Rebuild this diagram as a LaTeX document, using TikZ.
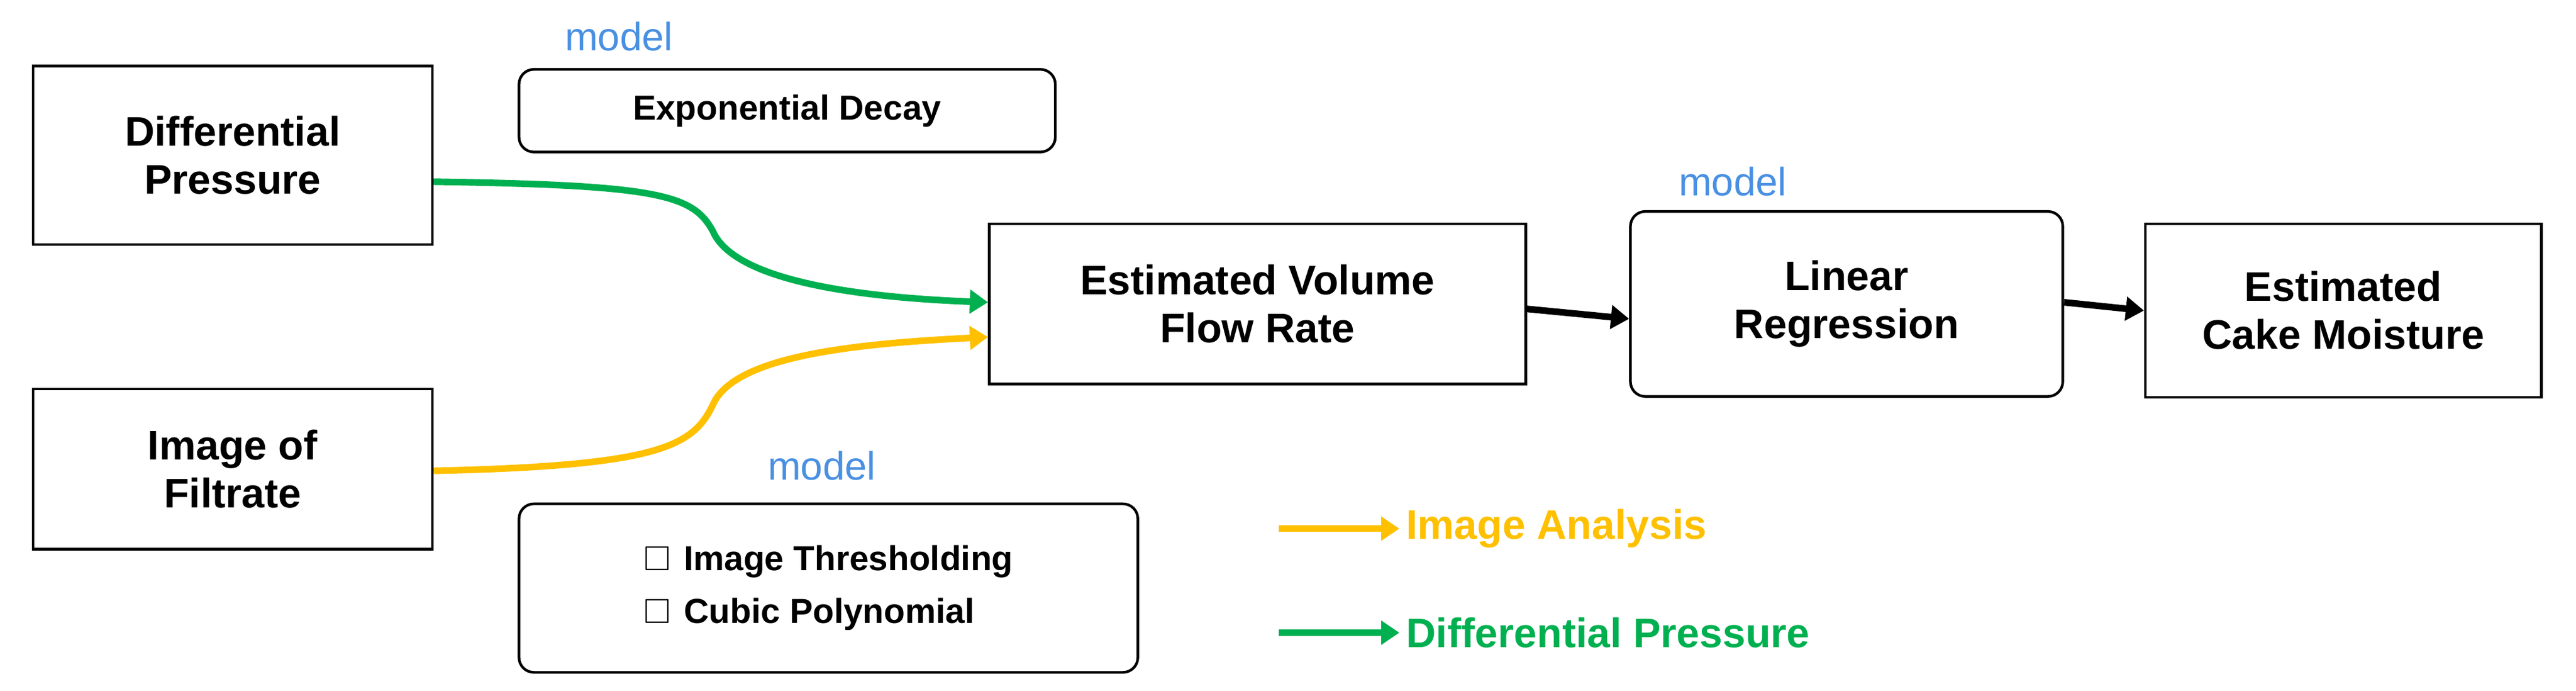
\documentclass[tikz,border=0pt]{standalone}
\usepackage{amssymb}
\usepackage{fontspec}
\setmainfont{Liberation Sans}
\usetikzlibrary{arrows.meta}
\definecolor{mblue}{RGB}{74,144,226}
\definecolor{myel}{RGB}{255,192,0}
\definecolor{mgreen}{RGB}{0,176,80}
\begin{document}
\begin{tikzpicture}[x=1pt,y=-1pt,
 box/.style={draw,line width=1.6pt,align=center,font=\fontsize{25}{29}\selectfont\bfseries,inner sep=0pt},
 rbox/.style={box,rounded corners=9pt},
 lab/.style={text=mblue,font=\fontsize{24}{28}\selectfont,inner sep=0pt},
 arr/.style={line width=4pt,-{Triangle[length=11pt,width=14pt]}}]
\useasboundingbox (0,0) rectangle (1561,418);
\node[box,minimum width=242pt,minimum height=108pt] (dp) at (141,94) {Differential\\Pressure};
\node[box,minimum width=242pt,minimum height=97pt] (img) at (141,284) {Image of\\Filtrate};
\node[rbox,minimum width=325pt,minimum height=50pt,font=\fontsize{21}{25}\selectfont\bfseries] (exp) at (477,67) {Exponential Decay};
\node[lab] (m1) at (375,22) {model};
\node[box,minimum width=325pt,minimum height=97pt] (vfr) at (762,184) {Estimated Volume\\Flow Rate};
\node[lab] (m2) at (1050,110) {model};
\node[rbox,minimum width=262pt,minimum height=112pt] (lr) at (1119,184) {Linear\\Regression};
\node[box,minimum width=240pt,minimum height=105pt] (cm) at (1420,188) {Estimated\\Cake Moisture};
\node[lab] (m3) at (498,282) {model};
\node[rbox,minimum width=375pt,minimum height=102pt,align=left,font=\fontsize{21}{32}\selectfont\bfseries] (lst) at (502,356)
 {$\square$\hspace{8pt}Image Thresholding\\$\square$\hspace{8pt}Cubic Polynomial};
\draw[arr,mgreen] (dp.east|-0,110) .. controls (400,112) and (420,118) .. (432,140) .. controls (445,170) and (520,180) .. (vfr.west|-0,183);
\draw[arr,myel] (img.east|-0,285) .. controls (400,282) and (420,270) .. (432,245) .. controls (445,215) and (520,208) .. (vfr.west|-0,204);
\draw[arr,black] (vfr.east|-0,187) -- (lr.west|-0,193);
\draw[arr,black] (lr.east|-0,183) -- (cm.west|-0,188);
\coordinate (y1) at (775,320); \coordinate (y2) at (848,320);
\coordinate (g1) at (775,383); \coordinate (g2) at (848,383);
\draw[arr,myel] (y1) -- (y2);
\draw[arr,mgreen] (g1) -- (g2);
\node[anchor=west,text=myel,font=\fontsize{25}{29}\selectfont\bfseries,inner sep=0pt] (t1) at (852,320) {Image Analysis};
\node[anchor=west,text=mgreen,font=\fontsize{25}{29}\selectfont\bfseries,inner sep=0pt] (t2) at (852,383) {Differential Pressure};
\end{tikzpicture}
\end{document}
